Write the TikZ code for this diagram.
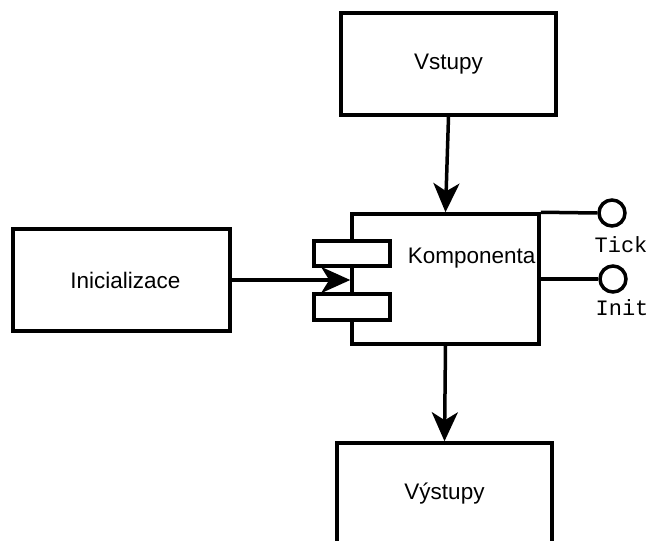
\documentclass[tikz,border=0pt]{standalone}
\usepackage{fontspec}
\setmainfont{Liberation Sans}
\newfontfamily\portfont{Liberation Mono}
\usetikzlibrary{arrows.meta}
\begin{document}
\begin{tikzpicture}[x=1pt,y=-1pt,line width=3.5pt,
  box/.style={draw,line width=3.5pt,inner sep=0pt,font=\fontsize{22.5}{27}\selectfont},
  port/.style={draw,fill=white,line width=3.5pt,inner sep=0pt,minimum width=76pt},
  pin/.style={draw,circle,line width=3.5pt,fill=white,inner sep=0pt,minimum size=26pt},
  pinlabel/.style={inner sep=0pt,font=\portfont\fontsize{22}{26}\selectfont},
  arr/.style={-{Stealth[length=29pt,width=26pt,inset=8pt]}}]
\clip (0,0) rectangle (651,541);
\node[box,minimum width=215pt,minimum height=102pt] (vin) at (448.5,64) {Vstupy};
\node[box,minimum width=217pt,minimum height=102pt] (ini) at (121.5,280) {\hspace{8pt}Inicializace};
\node[box,minimum width=187pt,minimum height=130pt] (komp) at (445.5,279) {};
\node[inner sep=0pt,anchor=base west,font=\fontsize{22.5}{27}\selectfont] (komptext) at (406,263) {Komponenta};
\node[box,minimum width=215pt,minimum height=102pt] (vout) at (444.5,494) {Výstupy};
\draw[arr] (ini.east) -- (ini.east -| komp.west);
\node[port,minimum height=25pt] (p1) at (352,253.5) {};
\node[port,minimum height=26pt] (p2) at (352,307) {};
\draw[arr] (vin.south) -- (komp.north);
\draw[arr] (komp.south) -- (vout.north);
\node[pin] (tick) at (612,213) {};
\node[pin] (init) at (613,279) {};
\draw (komp.north east) -- (tick.west);
\draw (komp.east) -- (init.west);
\node[pinlabel] (ticklbl) at (621,245) {Tick};
\node[pinlabel] (initlbl) at (622,308) {Init};
\end{tikzpicture}
\end{document}
